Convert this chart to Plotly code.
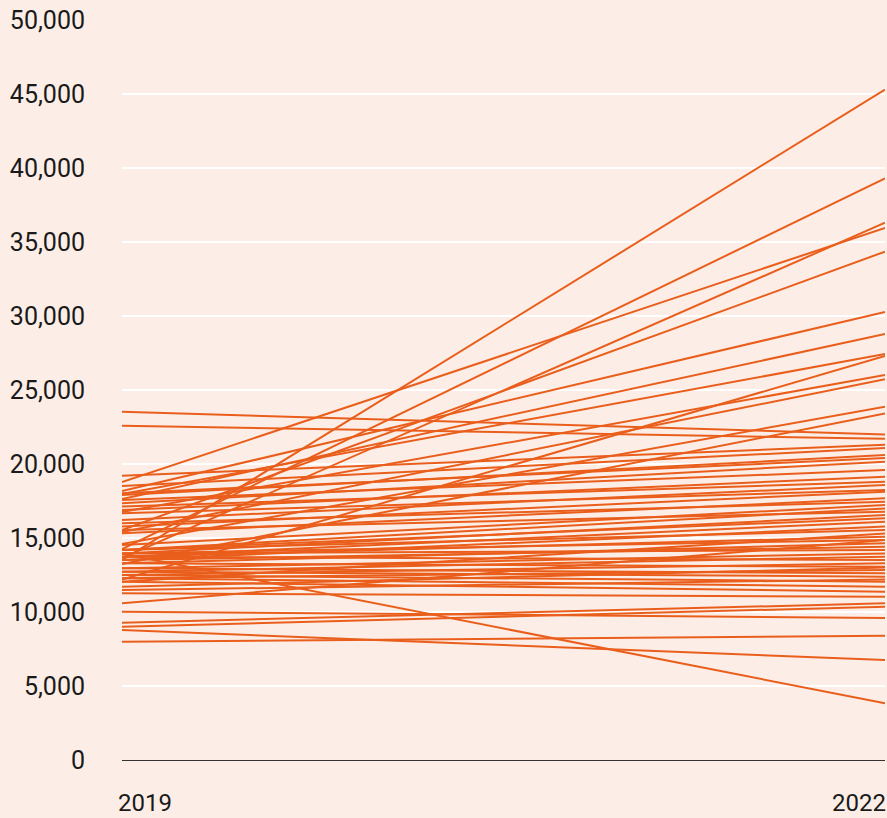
import plotly.graph_objects as go

years = [2019, 2022]

# value in 2019 for each line
values_2019 = [
    13500, 14250, 13650, 18780, 15540, 18170, 17640, 17970, 12200, 16760,
    15400, 14600, 13250, 23530, 22590, 19210,
    18510, 18020, 17900, 17570, 17340, 17120, 16890, 16670, 16220, 15990,
    15770, 15540, 15320, 14530, 14190, 14190, 14190, 13960, 13960, 13960,
    13740, 13740, 13740, 13510, 13510, 13290, 13290, 12950, 12950, 12720,
    12720, 12500, 12500, 12280, 12280, 12050, 12050, 11710, 11490, 11260,
    10590,
    10020, 9280, 9010, 8780, 7990, 13940,
]

# value in 2022 for each line
values_2022 = [
    45300, 39300, 36300, 35950, 34350, 30270, 28780, 27430, 27300, 26010,
    25720, 23870, 23420, 22000, 21700, 21300,
    21080, 20400, 20600, 19590, 20160, 18800, 19140, 18240, 18580, 17450,
    18130, 16780, 17680, 17230, 17000, 16330, 15540, 16550, 14870, 14190,
    16100, 15090, 13510, 15770, 14410, 14640, 13060, 13960, 12610, 13740,
    12390, 13290, 12050, 12840, 11710, 15300, 11370, 13000, 12200, 11030,
    14860,
    9600, 10590, 10360, 6760, 8400, 3830,
]

y_ticks = [0, 5000, 10000, 15000, 20000, 25000, 30000, 35000, 40000, 45000, 50000]
y_tick_labels = ["0", "5,000", "10,000", "15,000", "20,000", "25,000",
                 "30,000", "35,000", "40,000", "45,000", "50,000"]
year_labels = ["2019", "2022"]

LINE = "#EA5E1C"
BG = "#FCEEE7"
TXT = "#1a1a1a"

fig = go.Figure()
for a, b in zip(values_2019, values_2022):
    fig.add_trace(go.Scatter(
        x=years, y=[a, b], mode="lines",
        line=dict(color=LINE, width=2),
        hoverinfo="skip", showlegend=False,
    ))

fig.update_layout(
    width=887, height=818,
    paper_bgcolor=BG, plot_bgcolor=BG,
    margin=dict(l=122, r=2, t=20, b=58),
    font=dict(family="Roboto, sans-serif", size=25, color=TXT),
    showlegend=False,
)
fig.update_xaxes(
    range=[2019, 2022], showgrid=False, zeroline=False,
    showticklabels=False, showline=False,
)
fig.update_yaxes(
    range=[0, 50000], tickvals=y_ticks, ticktext=y_tick_labels,
    showgrid=True, gridcolor="#FFFFFF", gridwidth=2,
    zeroline=True, zerolinecolor="#333333", zerolinewidth=1,
    showline=False, ticks="", ticklabelstandoff=36,
)

fig.add_annotation(x=years[0], y=0, xref="x", yref="paper", text=year_labels[0],
                   showarrow=False, xanchor="left", yanchor="middle", yshift=-43,
                   xshift=-6, font=dict(size=24, color=TXT))
fig.add_annotation(x=years[1], y=0, xref="x", yref="paper", text=year_labels[1],
                   showarrow=False, xanchor="right", yanchor="middle", yshift=-43,
                   xshift=3, font=dict(size=24, color=TXT))

fig.write_html("out.html", config={"displayModeBar": False})

with open("out.html", "r", encoding="utf-8") as f:
    html = f.read()
html = html.replace("<body>", '<body style="margin:0;padding:0;overflow:hidden;">', 1)
with open("out.html", "w", encoding="utf-8") as f:
    f.write(html)
